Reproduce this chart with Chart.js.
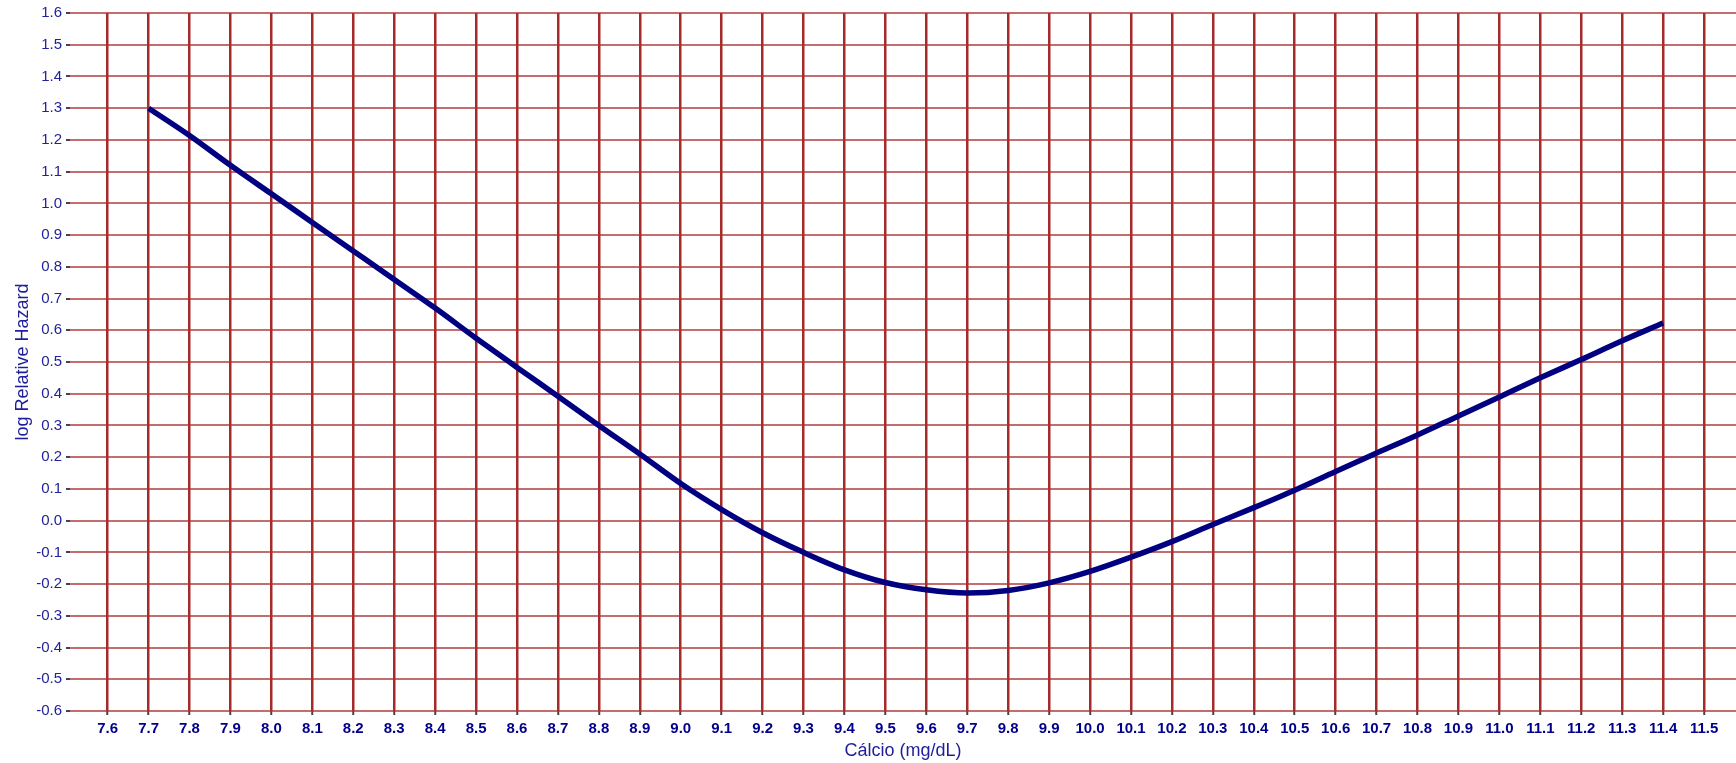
<!DOCTYPE html>
<html>
<head>
<meta charset="utf-8">
<script src="https://cdn.jsdelivr.net/npm/chart.js@4/dist/chart.umd.min.js"></script>
<style>
  html, body { margin: 0; padding: 0; background: #fff; }
  canvas { display: block; }
</style>
</head>
<body>
<canvas id="chartCalcio" width="1736" height="763"></canvas>
<script>
const calcio = [7.7, 7.8, 7.9, 8.0, 8.1, 8.2, 8.3, 8.4, 8.5, 8.6, 8.7, 8.8, 8.9, 9.0, 9.1, 9.2, 9.3, 9.4, 9.5,
    9.6, 9.7, 9.8, 9.9, 10.0, 10.1, 10.2, 10.3, 10.4, 10.5, 10.6, 10.7, 10.8, 10.9, 11.0, 11.1, 11.2, 11.3, 11.4];
const logHazard = [1.30, 1.214, 1.12, 1.03, 0.94, 0.85, 0.76, 0.67, 0.575, 0.483, 0.392, 0.30, 0.21, 0.117,
    0.035, -0.038, -0.10, -0.155, -0.195, -0.218, -0.228, -0.22, -0.196, -0.16, -0.115, -0.066, -0.012, 0.041,
    0.096, 0.155, 0.213, 0.27, 0.33, 0.39, 0.45, 0.508, 0.567, 0.623];

const xTicks = [7.6, 7.7, 7.8, 7.9, 8.0, 8.1, 8.2, 8.3, 8.4, 8.5, 8.6, 8.7, 8.8, 8.9, 9.0, 9.1, 9.2, 9.3, 9.4,
    9.5, 9.6, 9.7, 9.8, 9.9, 10.0, 10.1, 10.2, 10.3, 10.4, 10.5, 10.6, 10.7, 10.8, 10.9, 11.0, 11.1, 11.2,
    11.3, 11.4, 11.5];
const yTicks = [-0.6, -0.5, -0.4, -0.3, -0.2, -0.1, 0.0, 0.1, 0.2, 0.3, 0.4, 0.5, 0.6, 0.7, 0.8, 0.9, 1.0,
    1.1, 1.2, 1.3, 1.4, 1.5, 1.6];

const FONT = '"Liberation Sans", Arial, sans-serif';

new Chart(document.getElementById('chartCalcio'), {
    type: 'line',
    data: {
        datasets: [{
            data: calcio.map((c, i) => ({ x: c, y: logHazard[i] })),
            borderColor: '#000080',
            borderWidth: 5.5,
            pointRadius: 0,
            cubicInterpolationMode: 'monotone',
            fill: false
        }]
    },
    options: {
        responsive: false,
        animation: false,
        devicePixelRatio: 1,
        layout: { padding: { top: 12.5, right: 0, bottom: 0, left: 0 } },
        plugins: {
            legend: { display: false },
            tooltip: { enabled: false }
        },
        scales: {
            x: {
                type: 'linear',
                min: 7.508,
                max: 11.578,
                afterBuildTicks: scale => { scale.ticks = xTicks.map(v => ({ value: v })); },
                afterFit: scale => { scale.height = 52; },
                border: { display: false },
                grid: {
                    color: '#a52a2a',
                    lineWidth: 2.5,
                    tickColor: '#444',
                    tickLength: 4,
                    tickWidth: 2
                },
                ticks: {
                    autoSkip: false,
                    maxRotation: 0,
                    padding: 5,
                    color: '#00008b',
                    font: { family: FONT, size: 15, weight: 'bold' },
                    callback: v => v.toFixed(1)
                },
                title: {
                    display: true,
                    text: 'Cálcio (mg/dL)',
                    color: '#1e1e9c',
                    font: { family: FONT, size: 18 },
                    padding: { top: 0, bottom: 1 }
                }
            },
            y: {
                type: 'linear',
                min: -0.6,
                max: 1.6,
                afterBuildTicks: scale => { scale.ticks = yTicks.map(v => ({ value: v })); },
                afterFit: scale => { scale.width = 70; },
                border: { display: false },
                grid: {
                    color: 'rgba(175, 45, 45, 0.7)',
                    lineWidth: 2,
                    tickColor: '#444',
                    tickLength: 4,
                    tickWidth: 2
                },
                ticks: {
                    autoSkip: false,
                    padding: 4,
                    color: '#22229a',
                    font: { family: FONT, size: 15 },
                    callback: v => v.toFixed(1)
                },
                title: {
                    display: true,
                    text: 'log Relative Hazard',
                    color: '#1e1e9c',
                    font: { family: FONT, size: 18 },
                    padding: { top: 12, bottom: 0 }
                }
            }
        }
    }
});
</script>
</body>
</html>
